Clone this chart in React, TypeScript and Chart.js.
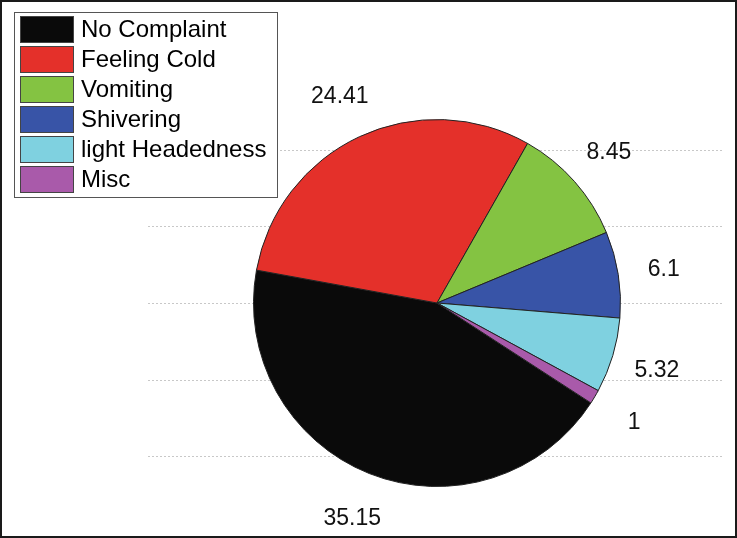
import React, { useEffect, useRef } from "react";
import { Chart, registerables } from "chart.js";

Chart.register(...registerables);

const categories = ["No Complaint", "Feeling Cold", "Vomiting", "Shivering", "light Headedness", "Misc"];
const values = [35.15, 24.41, 8.45, 6.1, 5.32, 1];
const valueLabels = ["35.15", "24.41", "8.45", "6.1", "5.32", "1"];
const colors = ["#0a0a0a", "#e4302a", "#84c342", "#3854a7", "#7fd1e0", "#a95aaa"];

const FONT = "'Liberation Sans', Arial, sans-serif";

const decorPlugin = {
  id: "decor",
  beforeDatasetsDraw(chart: any) {
    const meta = chart.getDatasetMeta(0);
    const arc = meta.data[0];
    if (!arc) return;
    const cx = arc.x;
    const cy = arc.y;
    const r = arc.outerRadius;
    const ctx = chart.ctx;
    ctx.save();
    ctx.strokeStyle = "#c8c8c8";
    ctx.lineWidth = 1;
    ctx.setLineDash([2, 2]);
    const steps = [-0.835, -0.418, 0, 0.418, 0.835];
    for (const s of steps) {
      const y = Math.round(cy + s * r) + 0.5;
      ctx.beginPath();
      ctx.moveTo(cx - 289, y);
      ctx.lineTo(cx + 285, y);
      ctx.stroke();
    }
    ctx.restore();
  },
  afterDraw(chart: any) {
    const ctx = chart.ctx;
    const meta = chart.getDatasetMeta(0);
    ctx.save();
    // value labels outside the slices
    ctx.fillStyle = "#111";
    ctx.font = `23px ${FONT}`;
    ctx.textAlign = "center";
    ctx.textBaseline = "middle";
    meta.data.forEach((el: any, i: number) => {
      const mid = (el.startAngle + el.endAngle) / 2;
      const R = el.outerRadius + 46;
      ctx.fillText(valueLabels[i], el.x + Math.cos(mid) * R, el.y + Math.sin(mid) * R + 2);
    });
    // legend box
    const lx = 14.5, ly = 12.5, lw = 263, lh = 185;
    ctx.fillStyle = "#fff";
    ctx.fillRect(lx, ly, lw, lh);
    ctx.strokeStyle = "#555";
    ctx.lineWidth = 1;
    ctx.strokeRect(lx, ly, lw, lh);
    ctx.font = `24px ${FONT}`;
    ctx.textAlign = "left";
    categories.forEach((c, i) => {
      const y = 16 + i * 30;
      ctx.fillStyle = colors[i];
      ctx.fillRect(20, y, 54, 27);
      ctx.strokeStyle = "#444";
      ctx.strokeRect(20.5, y + 0.5, 53, 26);
      ctx.fillStyle = "#000";
      ctx.fillText(c, 81, y + 14);
    });
    // outer frame
    ctx.strokeStyle = "#1a1a1a";
    ctx.lineWidth = 2;
    ctx.strokeRect(1, 1, chart.width - 2, chart.height - 2);
    ctx.restore();
  },
};

export default function App() {
  const ref = useRef<HTMLCanvasElement | null>(null);
  useEffect(() => {
    if (!ref.current) return;
    const chart = new Chart(ref.current, {
      type: "pie",
      data: {
        labels: categories,
        datasets: [
          {
            data: values,
            backgroundColor: colors,
            borderColor: "#222",
            borderWidth: 1,
          },
        ],
      },
      options: {
        animation: false,
        responsive: true,
        maintainAspectRatio: false,
        rotation: 123,
        layout: { padding: { left: 253, right: 116, top: 119, bottom: 51 } },
        plugins: {
          legend: { display: false },
          tooltip: { enabled: false },
        },
      },
      plugins: [decorPlugin],
    });
    return () => chart.destroy();
  }, []);
  return (
    <div style={{ position: "absolute", left: 0, top: 0, width: 737, height: 538, background: "#fff" }}>
      <canvas ref={ref} />
    </div>
  );
}
